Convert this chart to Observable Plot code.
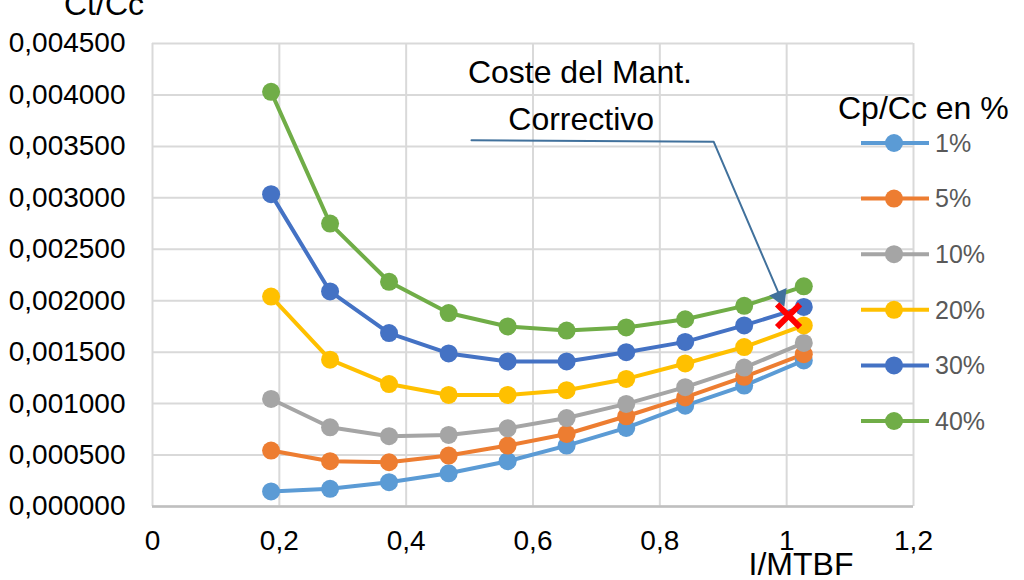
<!DOCTYPE html>
<html><head><meta charset="utf-8">
<script src="https://cdn.jsdelivr.net/npm/d3@7"></script>
<script src="https://cdn.jsdelivr.net/npm/@observablehq/plot@0.6"></script>
<style>
body{margin:0;background:#fff;}
#chart{width:1024px;height:580px;overflow:hidden;position:relative;}
</style></head><body><div id="chart"></div>
<script>
// ---- data ----
const xValues = [0.187, 0.280, 0.373, 0.467, 0.560, 0.653, 0.747, 0.840, 0.933, 1.027];
const seriesNames = ["1%", "5%", "10%", "20%", "30%", "40%"];
const seriesColors = ["#5B9BD5", "#ED7D31", "#A5A5A5", "#FFC000", "#4472C4", "#70AD47"];
const p1  = [0.000146, 0.000172, 0.000236, 0.000323, 0.000440, 0.000592, 0.000764, 0.000980, 0.001175, 0.001420];
const p5  = [0.000544, 0.000440, 0.000430, 0.000495, 0.000592, 0.000705, 0.000877, 0.001060, 0.001260, 0.001480];
const p10 = [0.001045, 0.000770, 0.000683, 0.000696, 0.000760, 0.000860, 0.000997, 0.001160, 0.001350, 0.001590];
const p20 = [0.002040, 0.001427, 0.001190, 0.001084, 0.001084, 0.001130, 0.001240, 0.001390, 0.001550, 0.001760];
const p30 = [0.003036, 0.002090, 0.001686, 0.001488, 0.001410, 0.001410, 0.001500, 0.001600, 0.001760, 0.001940];
const p40 = [0.004030, 0.002750, 0.002184, 0.001880, 0.001750, 0.001710, 0.001740, 0.001820, 0.001950, 0.002140];
const seriesValues = [p1, p5, p10, p20, p30, p40];
const xTicks = [0, 0.2, 0.4, 0.6, 0.8, 1.0, 1.2];
const yTicks = [0, 0.0005, 0.001, 0.0015, 0.002, 0.0025, 0.003, 0.0035, 0.004, 0.0045];
const annotationX = [0.503, 0.885, 0.9896];
const annotationY = [0.00356, 0.003544, 0.002039];
const arrowHead = {x: 0.9896, y: 0.002039};
const annotationLines = ["Coste del Mant.", "Correctivo"];
const annotationLineX = [0.674, 0.676];
const annotationLineY = [0.004214, 0.003757];
const markerPoint = {x: 1.003, y: 0.001854};
const xTitle = "I/MTBF";
const yTitle = "Ct/Cc";
const legendTitle = "Cp/Cc en %";

// ---- build tables ----
const rows = [];
seriesNames.forEach((s, i) => seriesValues[i].forEach((v, j) => rows.push({series: s, x: xValues[j], y: v})));
const annotationPath = annotationX.map((x, i) => ({x, y: annotationY[i]}));
const annotationTexts = annotationLines.map((t, i) => ({t, x: annotationLineX[i], y: annotationLineY[i]}));

const font = "Liberation Sans, Arial, Helvetica, sans-serif";
const fmtY = d => d.toFixed(6).replace(".", ",");
const fmtX = d => String(+d.toFixed(1)).replace(".", ",");

const plot = Plot.plot({
  width: 1024, height: 580,
  marginLeft: 152, marginRight: 111, marginTop: 43, marginBottom: 74,
  style: {fontFamily: font, fontSize: "28px", color: "#000", background: "#fff", overflow: "visible"},
  x: {domain: [0, 1.2], ticks: xTicks, tickFormat: fmtX, tickSize: 0, tickPadding: 24, label: null},
  y: {domain: [0, 0.0045], ticks: yTicks, tickFormat: fmtY, tickSize: 0, tickPadding: 27, label: null},
  color: {domain: seriesNames, range: seriesColors},
  marks: [
    Plot.gridX(xTicks, {stroke: "#d9d9d9", strokeOpacity: 1, strokeWidth: 2}),
    Plot.gridY(yTicks, {stroke: "#d9d9d9", strokeOpacity: 1, strokeWidth: 2}),
    Plot.ruleY([0], {stroke: "#bfbfbf", strokeWidth: 2.5}),
    Plot.line(rows, {x: "x", y: "y", z: "series", stroke: "series", strokeWidth: 4}),
    Plot.dot(rows, {x: "x", y: "y", fill: "series", r: 9}),
    Plot.line(annotationPath, {x: "x", y: "y", stroke: "#41719C", strokeWidth: 2}),
    Plot.dot([arrowHead], {x: "x", y: "y", symbol: "triangle", r: 7, fill: "#41719C", rotate: 157}),
    Plot.dot([markerPoint], {x: "x", y: "y", symbol: "times", r: 10.5, stroke: "#FF0000", strokeWidth: 6}),
    Plot.text(annotationTexts, {x: "x", y: "y", text: "t", fontSize: 32, fill: "#000", textAnchor: "middle"})
  ]
});

const svg = d3.select(plot);
svg.append("text").attr("x", 104).attr("y", 15).attr("text-anchor", "middle")
  .attr("font-family", font).attr("font-size", 32).attr("fill", "#000").text(yTitle);
svg.append("text").attr("x", 801).attr("y", 575).attr("text-anchor", "middle")
  .attr("font-family", font).attr("font-size", 32).attr("fill", "#000").text(xTitle);
svg.append("text").attr("x", 838).attr("y", 119).attr("text-anchor", "start")
  .attr("font-family", font).attr("font-size", 32).attr("fill", "#000").text(legendTitle);
const lg = svg.append("g");
seriesNames.forEach((s, i) => {
  const yy = 143 + i * 55.6;
  lg.append("line").attr("x1", 861).attr("x2", 929).attr("y1", yy).attr("y2", yy)
    .attr("stroke", seriesColors[i]).attr("stroke-width", 4);
  lg.append("circle").attr("cx", 894).attr("cy", yy).attr("r", 9).attr("fill", seriesColors[i]);
  lg.append("text").attr("x", 935).attr("y", yy).attr("dy", "0.35em").attr("text-anchor", "start")
    .attr("font-family", font).attr("font-size", 25).attr("fill", "#595959").text(s);
});
document.getElementById("chart").appendChild(plot);
</script></body></html>
